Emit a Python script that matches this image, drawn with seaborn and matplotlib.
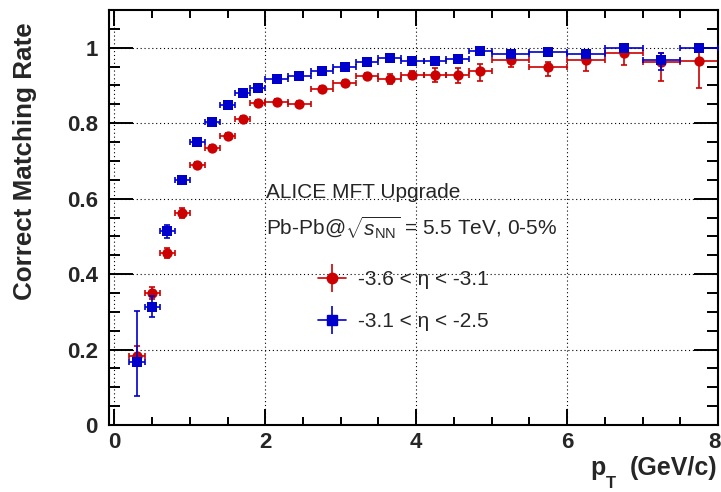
import numpy as np
import pandas as pd
import matplotlib
matplotlib.use("Agg")
import matplotlib.pyplot as plt
import matplotlib.transforms as mtransforms
import seaborn as sns
from matplotlib.lines import Line2D
from matplotlib.ticker import MultipleLocator, FuncFormatter
from matplotlib.legend_handler import HandlerTuple

# ---------------- data ----------------
pt_center = [0.3, 0.5, 0.7, 0.9, 1.1, 1.3, 1.5, 1.7, 1.9,
             2.15, 2.45, 2.75, 3.05, 3.35, 3.65, 3.95, 4.25, 4.55, 4.85,
             5.25, 5.75, 6.25, 6.75, 7.25, 7.75]
pt_halfwidth = [0.1] * 9 + [0.15] * 10 + [0.25] * 6

rate_eta1 = [0.184, 0.349, 0.455, 0.562, 0.690, 0.734, 0.766, 0.811, 0.854,
             0.855, 0.852, 0.891, 0.907, 0.925, 0.918, 0.928, 0.928, 0.928, 0.937,
             0.967, 0.950, 0.967, 0.986, 0.961, 0.964]
err_lo_eta1 = [0.025, 0.016, 0.013, 0.012, 0.008, 0.008, 0.008, 0.008, 0.008,
               0.008, 0.008, 0.008, 0.008, 0.008, 0.013, 0.010, 0.020, 0.022, 0.026,
               0.018, 0.024, 0.030, 0.031, 0.050, 0.071]
err_hi_eta1 = [0.025, 0.016, 0.013, 0.012, 0.008, 0.008, 0.008, 0.008, 0.008,
               0.008, 0.008, 0.008, 0.008, 0.008, 0.013, 0.010, 0.018, 0.019, 0.019,
               0.009, 0.012, 0.016, 0.011, 0.024, 0.030]

rate_eta2 = [0.168, 0.314, 0.513, 0.650, 0.749, 0.802, 0.848, 0.880, 0.894,
             0.916, 0.925, 0.939, 0.948, 0.961, 0.972, 0.964, 0.964, 0.970, 0.992,
             0.983, 0.988, 0.983, 0.998, 0.967, 0.998]
err_lo_eta2 = [0.090, 0.028, 0.018, 0.010, 0.008, 0.008, 0.008, 0.008, 0.006,
               0.006, 0.006, 0.006, 0.006, 0.006, 0.006, 0.006, 0.006, 0.006, 0.006,
               0.008, 0.008, 0.008, 0.010, 0.026, 0.010]
err_hi_eta2 = [0.135, 0.028, 0.018, 0.010, 0.008, 0.008, 0.008, 0.008, 0.006,
               0.006, 0.006, 0.006, 0.006, 0.006, 0.006, 0.006, 0.006, 0.006, 0.006,
               0.008, 0.008, 0.008, 0.010, 0.018, 0.010]

series_labels = ["-3.6 < \u03b7 < -3.1", "-3.1 < \u03b7 < -2.5"]
x_ticks = [0, 2, 4, 6, 8]
y_ticks = [0, 0.2, 0.4, 0.6, 0.8, 1.0]
x_title_main = "p"
x_title_sub = "T"
x_title_unit = "(GeV/c)"
y_title = "Correct Matching Rate"
text_line1 = "ALICE MFT Upgrade"
text_line2 = r"Pb-Pb@$\sqrt{s_{\rm NN}}$ = 5.5 TeV, 0-5%"

RED = "#cc0000"
BLUE = "#0000cc"

# ---------------- style ----------------
sns.set_style("ticks")
plt.rcParams["font.family"] = ["Liberation Sans", "DejaVu Sans"]
plt.rcParams["mathtext.fontset"] = "custom"
plt.rcParams["mathtext.rm"] = "Liberation Sans"
plt.rcParams["mathtext.it"] = "Liberation Sans:italic"
plt.rcParams["mathtext.bf"] = "Liberation Sans:bold"

fig = plt.figure(figsize=(7.21, 4.92), dpi=100)
W, H = 721, 492
ax = fig.add_axes([109.5 / W, 1 - 425 / H, (718 - 109.5) / W, (425 - 10) / H])

df1 = pd.DataFrame({"pt": pt_center, "rate": rate_eta1})
df2 = pd.DataFrame({"pt": pt_center, "rate": rate_eta2})

ax.errorbar(pt_center, rate_eta1, xerr=pt_halfwidth, yerr=[err_lo_eta1, err_hi_eta1],
            fmt="none", ecolor=RED, elinewidth=1.2, capsize=2.2, capthick=1.2, zorder=2)
sns.scatterplot(data=df1, x="pt", y="rate", marker="o", s=55, color=RED,
                edgecolor=RED, linewidth=0, ax=ax, zorder=3, legend=False)
ax.errorbar(pt_center, rate_eta2, xerr=pt_halfwidth, yerr=[err_lo_eta2, err_hi_eta2],
            fmt="none", ecolor=BLUE, elinewidth=1.2, capsize=2.2, capthick=1.2, zorder=4)
sns.scatterplot(data=df2, x="pt", y="rate", marker="s", s=48, color=BLUE,
                edgecolor=BLUE, linewidth=0, ax=ax, zorder=5, legend=False)

ax.set_xlim(-0.065, 8.0)
ax.set_ylim(0, 1.1)
ax.set_xlabel("")
ax.set_ylabel("")

ax.set_xticks(x_ticks)
ax.set_yticks(y_ticks)
ax.xaxis.set_minor_locator(MultipleLocator(0.5))
ax.yaxis.set_minor_locator(MultipleLocator(0.05))
fmt = FuncFormatter(lambda v, p: f"{v:g}")
ax.xaxis.set_major_formatter(fmt)
ax.yaxis.set_major_formatter(fmt)

ax.grid(True, which="major", color="black", linestyle=(0, (1, 2.5)), linewidth=0.8)
ax.set_axisbelow(True)

for s in ax.spines.values():
    s.set_visible(True)
    s.set_linewidth(1.5)
    s.set_color("black")

ax.tick_params(which="both", direction="in", top=True, right=True, width=1.4, color="black")
ax.tick_params(axis="x", which="major", length=11.5, pad=5, labelsize=16)
ax.tick_params(axis="x", which="minor", length=6)
ax.tick_params(axis="y", which="major", length=17, pad=8.3, labelsize=16)
ax.tick_params(axis="y", which="minor", length=8)
for lab in ax.get_xticklabels() + ax.get_yticklabels():
    lab.set_fontweight("bold")
# keep the last x label inside the canvas (as ROOT does)
last = ax.get_xticklabels()[-1]
last.set_transform(last.get_transform() +
                   mtransforms.ScaledTranslation(-4 / 100, 0, fig.dpi_scale_trans))

# axis titles
fig.text(590 / W, 1 - 474.5 / H, x_title_main, ha="left", va="baseline",
         fontsize=18, fontweight="bold")
fig.text(606 / W, 1 - 488 / H, x_title_sub, ha="left", va="baseline",
         fontsize=12, fontweight="bold")
fig.text(717.5 / W, 1 - 474.5 / H, x_title_unit, ha="right", va="baseline",
         fontsize=18, fontweight="bold")
fig.text(25 / W, 1 - 22 / H, y_title, rotation=90, ha="center", va="top",
         fontsize=18.7, fontweight="bold")

# annotations
fig.text(266 / W, 1 - 198.5 / H, text_line1, ha="left", va="baseline", fontsize=15)
fig.text(266 / W, 1 - 235 / H, text_line2, ha="left", va="baseline", fontsize=15)

# legend
def proxy(color, marker, ms):
    h = Line2D([], [], color=color, lw=1.2, marker=marker, markersize=ms,
               markerfacecolor=color, markeredgecolor=color)
    v = Line2D([], [], color=color, ls="none", marker="|", markersize=20, markeredgewidth=1.2)
    return (h, v)

handles = [proxy(RED, "o", 7.5), proxy(BLUE, "s", 7)]
leg = fig.legend(handles, series_labels, loc="center left",
                 bbox_to_anchor=(317.7 / W, 1 - 300.5 / H), frameon=False,
                 fontsize=15, handlelength=1.35, handletextpad=0.6, labelspacing=1.1,
                 borderpad=0, borderaxespad=0,
                 handler_map={tuple: HandlerTuple(ndivide=1, pad=0)})

fig.savefig("out.png", dpi=100)
